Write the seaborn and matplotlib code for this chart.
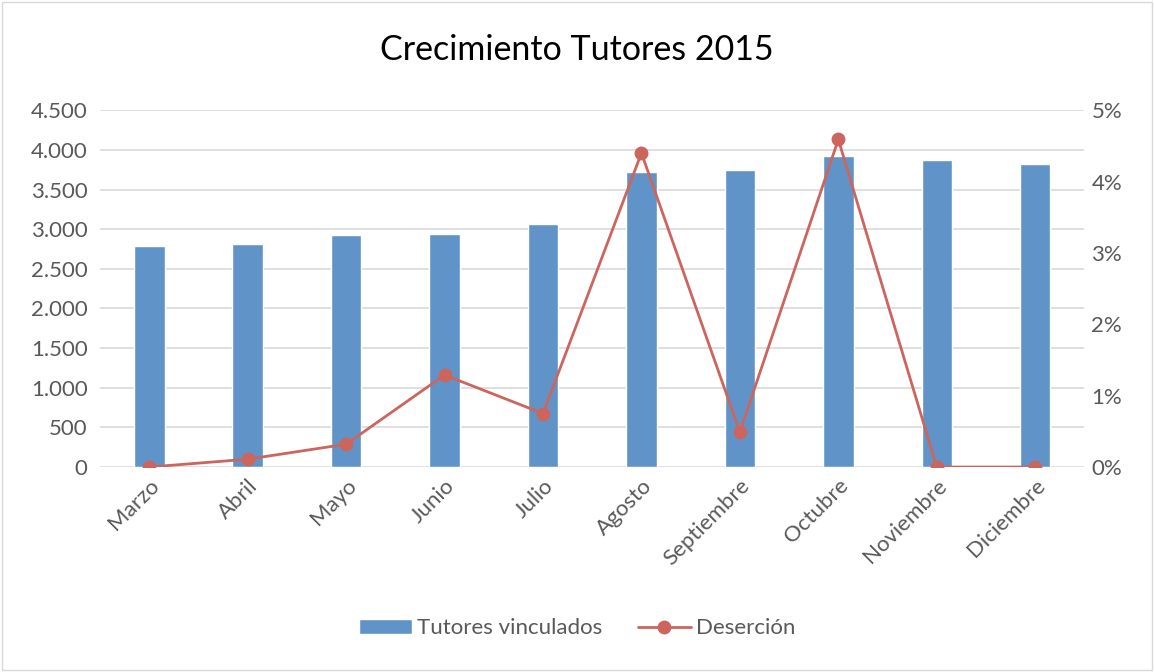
import pandas as pd
import seaborn as sns
from matplotlib import pyplot as plt
import matplotlib.ticker as ticker
from matplotlib.lines import Line2D
from matplotlib.patches import Patch, Rectangle

meses = ["Marzo", "Abril", "Mayo", "Junio", "Julio", "Agosto",
         "Septiembre", "Octubre", "Noviembre", "Diciembre"]
tutores = [2785, 2815, 2920, 2937, 3063, 3718, 3752, 3920, 3878, 3823]
desercion = [0.0, 0.11, 0.32, 1.29, 0.75, 4.40, 0.49, 4.59, 0.0, 0.0]

df = pd.DataFrame({"Mes": meses, "Tutores": tutores, "Desercion": desercion})

sns.set_style("white")
plt.rcParams['font.family'] = ['Lato', 'DejaVu Sans']
gris = "#595959"
azul = "#6094C8"
rojo = "#CC655E"

fig = plt.figure(figsize=(11.54, 6.72), dpi=100)
ax = fig.add_axes([0.0867, 0.305, 0.853, 0.531])

sns.barplot(data=df, x="Mes", y="Tutores", color=azul, width=0.31,
            saturation=1, ax=ax, zorder=2)
ax.set_ylim(0, 4500)
ax.set_xlim(-0.5, 9.5)
ax.yaxis.set_major_locator(ticker.MultipleLocator(500))
ax.yaxis.set_major_formatter(ticker.FuncFormatter(lambda v, p: f"{int(v):,}".replace(",", ".")))
ax.grid(axis="y", color="#D9D9D9", linewidth=1.2, zorder=0)
ax.set_axisbelow(True)
ax.set_xlabel("")
ax.set_ylabel("")
for s in ax.spines.values():
    s.set_visible(False)
ax.tick_params(axis="both", length=0, labelsize=16, labelcolor=gris)
ax.tick_params(axis="y", pad=9)
ax.tick_params(axis="x", pad=6)
plt.setp(ax.get_xticklabels(), rotation=45, ha="right", rotation_mode="anchor")

ax2 = ax.twinx()
sns.lineplot(x=list(range(len(meses))), y=desercion, ax=ax2, color=rojo,
             linewidth=2, marker="o", markersize=10, markeredgewidth=0, zorder=3)
ax2.set_ylim(0, 5)
ax2.yaxis.set_major_locator(ticker.MultipleLocator(1))
ax2.yaxis.set_major_formatter(ticker.FuncFormatter(lambda v, p: f"{int(v)}%"))
for s in ax2.spines.values():
    s.set_visible(False)
ax2.tick_params(axis="y", length=0, labelsize=16, labelcolor=gris, pad=5)

fig.text(0.5, 0.926, "Crecimiento Tutores 2015", ha="center", va="center",
         fontsize=24.5, color="black")

handles = [Patch(facecolor=azul, label="Tutores vinculados"),
           Line2D([0], [0], color=rojo, linewidth=2, marker="o", markersize=10,
                  markeredgewidth=0, label="Deserción")]
fig.legend(handles=handles, loc="center", bbox_to_anchor=(0.5, 0.065), ncol=2,
           frameon=False, fontsize=16, labelcolor=gris, handlelength=2.4,
           handleheight=0.7, columnspacing=1.6, handletextpad=0.22)

fig.patches.append(Rectangle((0.002, 0.003), 0.996, 0.994, transform=fig.transFigure,
                             fill=False, edgecolor="#D9D9D9", linewidth=1))

fig.savefig("out.png", dpi=100)
